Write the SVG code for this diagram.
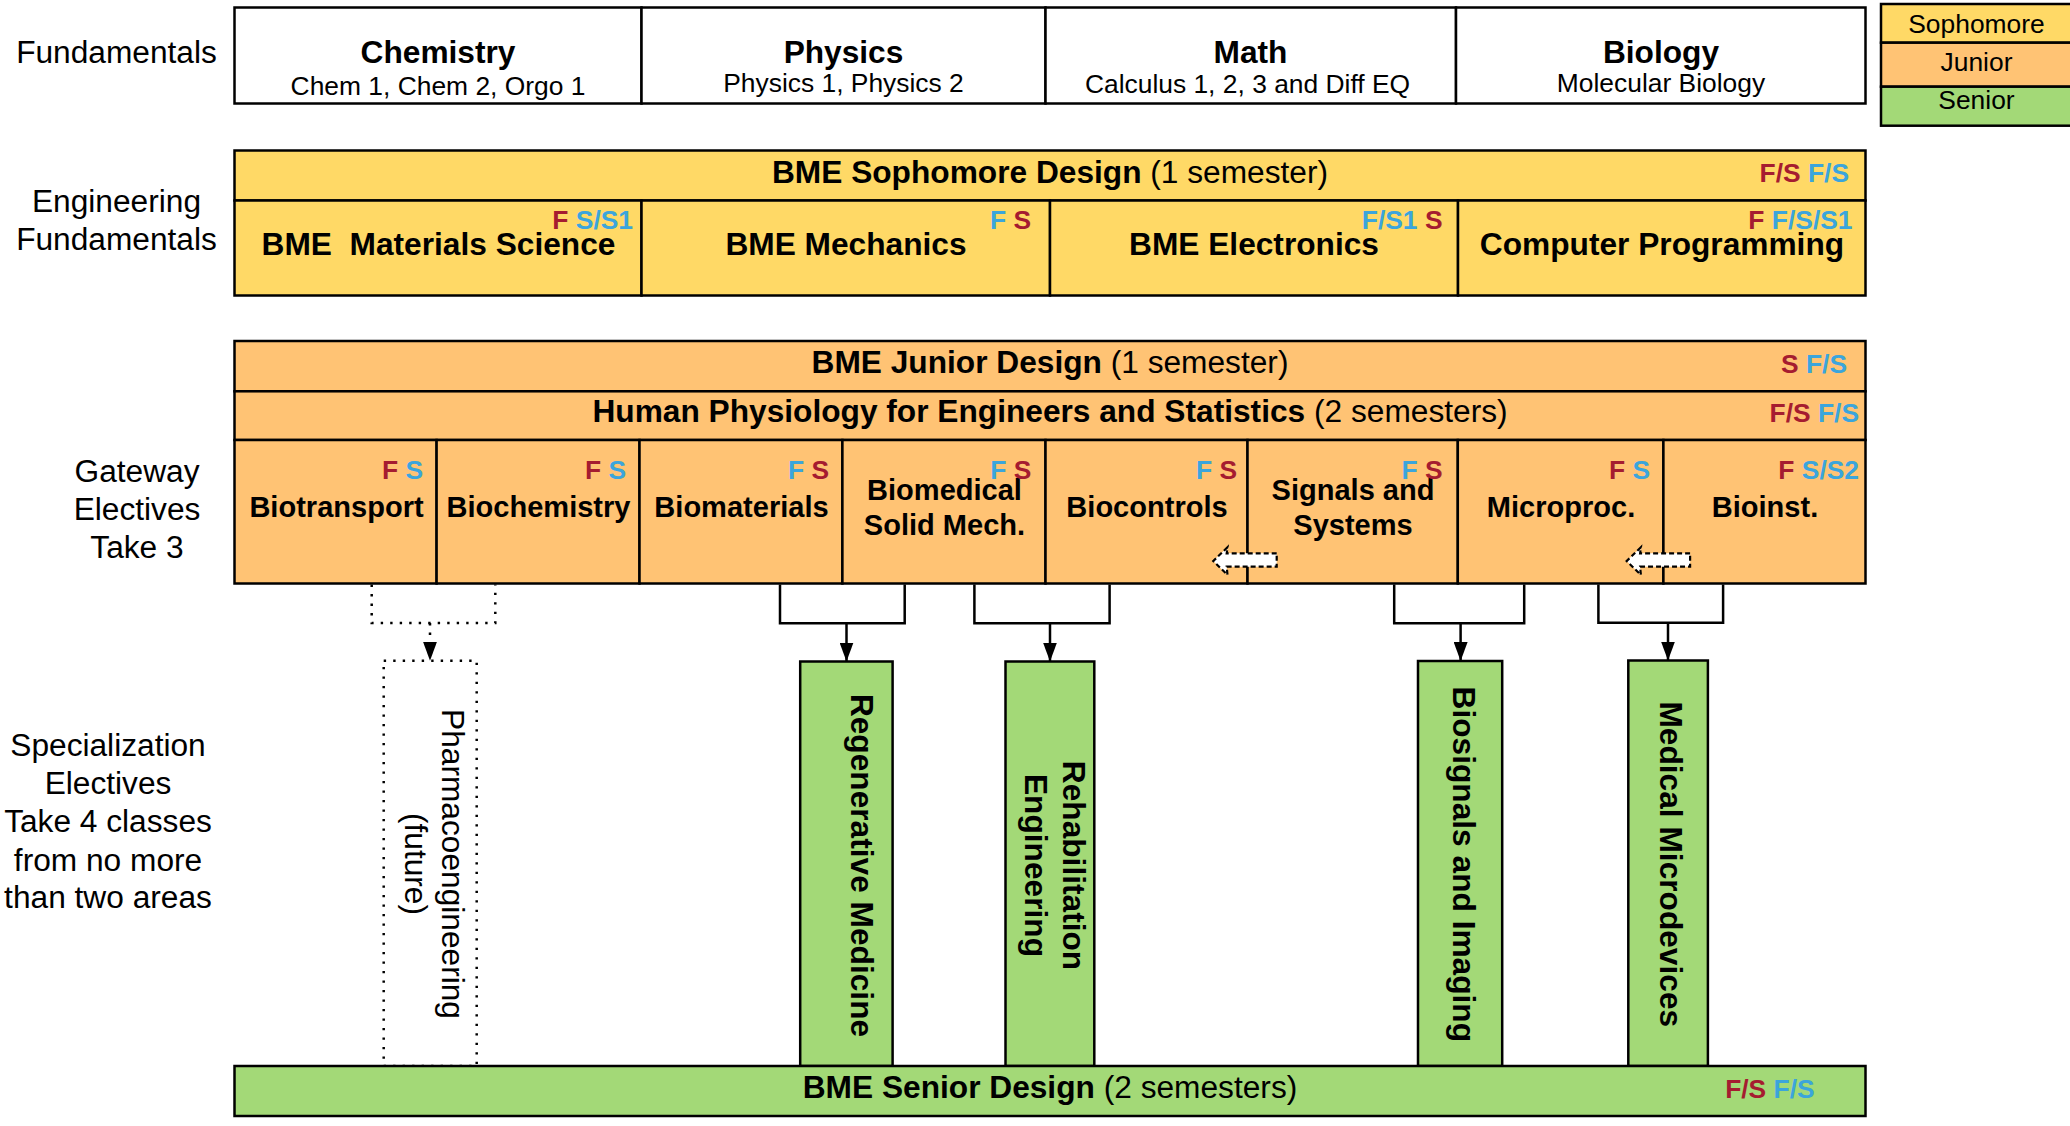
<svg xmlns="http://www.w3.org/2000/svg" width="2070" height="1126" viewBox="0 0 2070 1126">
  <defs>
    <style>
      .box { stroke: #000; stroke-width: 2.5; }
      .w { fill: #fff; }
      .y { fill: #FFD966; }
      .o { fill: #FFC374; }
      .g { fill: #A3D977; }
      text { font-family: "Liberation Sans", Arial, Helvetica, sans-serif; fill: #000; }
      .t24 { font-size: 31.68px; }
      .t22 { font-size: 29.04px; font-weight: bold; }
      .t20 { font-size: 26.4px; }
      .bd { font-weight: bold; }
      .mk { font-size: 26.4px; font-weight: bold; }
      .r { fill: #A51C30; }
      .bl { fill: #3BA5DC; }
      .mid { text-anchor: middle; }
      .end { text-anchor: end; }
      .conn { fill: none; stroke: #000; stroke-width: 2.5; }
      .dot { fill: none; stroke: #000; stroke-width: 2.5; stroke-dasharray: 2.4 7.1; }
      .flex { fill: #fff; stroke: #000; stroke-width: 2.2; stroke-dasharray: 5 3; }
    </style>
    <marker id="arrowEnd" markerUnits="userSpaceOnUse" viewBox="0 0 19 14" refX="19" refY="7" markerWidth="19" markerHeight="14" orient="auto">
      <path d="M0,0 L19,7 L0,14 z" fill="#000"/>
    </marker>
  </defs>

  <rect width="2070" height="1126" fill="#fff"/>

  <!-- row labels -->
  <g id="row-labels" class="t24">
    <text class="mid" x="116.5" y="62.7">Fundamentals</text>
    <text class="mid" x="116.5" y="211.5">Engineering</text>
    <text class="mid" x="116.5" y="249.8">Fundamentals</text>
    <text class="mid" x="137" y="481.5">Gateway</text>
    <text class="mid" x="137" y="519.8">Electives</text>
    <text class="mid" x="137" y="557.5">Take 3</text>
    <text class="mid" x="108" y="755.9">Specialization</text>
    <text class="mid" x="108" y="794.2">Electives</text>
    <text class="mid" x="108" y="832.1">Take 4 classes</text>
    <text class="mid" x="108" y="870.5">from no more</text>
    <text class="mid" x="108" y="908.4">than two areas</text>
  </g>

  <!-- legend -->
  <g id="legend">
    <rect class="box y" x="1881" y="4" width="194" height="38.7"/>
    <rect class="box o" x="1881" y="42.7" width="194" height="44"/>
    <rect class="box g" x="1881" y="86.7" width="194" height="39"/>
    <text class="t20 mid" x="1976.5" y="32.7">Sophomore</text>
    <text class="t20 mid" x="1976.5" y="71">Junior</text>
    <text class="t20 mid" x="1976.5" y="109">Senior</text>
  </g>

  <!-- fundamentals -->
  <g id="chemistry">
    <rect class="box w" x="234.5" y="7.5" width="407" height="96"/>
    <text class="t24 bd mid" x="438" y="62.5">Chemistry</text>
    <text class="t20 mid" x="438" y="95">Chem 1, Chem 2, Orgo 1</text>
  </g>
  <g id="physics">
    <rect class="box w" x="641.5" y="7.5" width="404" height="96"/>
    <text class="t24 bd mid" x="843.5" y="62.5">Physics</text>
    <text class="t20 mid" x="843.5" y="92">Physics 1, Physics 2</text>
  </g>
  <g id="math">
    <rect class="box w" x="1045.5" y="7.5" width="410.5" height="96"/>
    <text class="t24 bd mid" x="1250.5" y="62.5">Math</text>
    <text class="t20 mid" x="1247.5" y="92.5">Calculus 1, 2, 3 and Diff EQ</text>
  </g>
  <g id="biology">
    <rect class="box w" x="1456" y="7.5" width="409.5" height="96"/>
    <text class="t24 bd mid" x="1661" y="62.5">Biology</text>
    <text class="t20 mid" x="1661" y="92">Molecular Biology</text>
  </g>

  <!-- engineering fundamentals -->
  <g id="sophomore-design">
    <rect class="box y" x="234.5" y="150.5" width="1631" height="50"/>
    <text class="t24 mid" x="1050" y="183.2"><tspan class="bd">BME Sophomore Design</tspan> (1 semester)</text>
    <text class="mk end" x="1849" y="181.5"><tspan class="r">F/S</tspan> <tspan class="bl">F/S</tspan></text>
  </g>
  <g id="materials-science">
    <rect class="box y" x="234.5" y="200.5" width="407" height="95"/>
    <text class="t24 bd mid" x="438.5" y="254.5" xml:space="preserve">BME  Materials Science</text>
    <text class="mk end" x="633" y="229.3"><tspan class="r">F</tspan> <tspan class="bl">S/S1</tspan></text>
  </g>
  <g id="mechanics">
    <rect class="box y" x="641.5" y="200.5" width="408.5" height="95"/>
    <text class="t24 bd mid" x="846" y="254.5">BME Mechanics</text>
    <text class="mk end" x="1031" y="229.3"><tspan class="bl">F</tspan> <tspan class="r">S</tspan></text>
  </g>
  <g id="electronics">
    <rect class="box y" x="1050" y="200.5" width="408" height="95"/>
    <text class="t24 bd mid" x="1254" y="254.5">BME Electronics</text>
    <text class="mk end" x="1442.5" y="229.3"><tspan class="bl">F/S1</tspan> <tspan class="r">S</tspan></text>
  </g>
  <g id="programming">
    <rect class="box y" x="1458" y="200.5" width="407.5" height="95"/>
    <text class="t24 bd mid" x="1662" y="254.5">Computer Programming</text>
    <text class="mk end" x="1852.5" y="229.3"><tspan class="r">F</tspan> <tspan class="bl">F/S/S1</tspan></text>
  </g>

  <!-- junior year -->
  <g id="junior-design">
    <rect class="box o" x="234.5" y="341" width="1631" height="50.3"/>
    <text class="t24 mid" x="1050" y="373.2"><tspan class="bd">BME Junior Design</tspan> (1 semester)</text>
    <text class="mk end" x="1847" y="373"><tspan class="r">S</tspan> <tspan class="bl">F/S</tspan></text>
  </g>
  <g id="physiology-statistics">
    <rect class="box o" x="234.5" y="391.3" width="1631" height="48.7"/>
    <text class="t24 mid" x="1050" y="421.8"><tspan class="bd">Human Physiology for Engineers and Statistics</tspan> (2 semesters)</text>
    <text class="mk end" x="1859" y="421.5"><tspan class="r">F/S</tspan> <tspan class="bl">F/S</tspan></text>
  </g>

  <!-- gateway electives -->
  <g id="biotransport">
    <rect class="box o" x="234.5" y="440" width="202.1" height="143.5"/>
    <text class="t22 mid" x="336.5" y="516.7">Biotransport</text>
    <text class="mk end" x="423.2" y="478.5"><tspan class="r">F</tspan> <tspan class="bl">S</tspan></text>
  </g>
  <g id="biochemistry">
    <rect class="box o" x="436.6" y="440" width="202.9" height="143.5"/>
    <text class="t22 mid" x="538.5" y="516.7">Biochemistry</text>
    <text class="mk end" x="626.1" y="478.5"><tspan class="r">F</tspan> <tspan class="bl">S</tspan></text>
  </g>
  <g id="biomaterials">
    <rect class="box o" x="639.5" y="440" width="202.9" height="143.5"/>
    <text class="t22 mid" x="741.5" y="516.7">Biomaterials</text>
    <text class="mk end" x="829" y="478.5"><tspan class="bl">F</tspan> <tspan class="r">S</tspan></text>
  </g>
  <g id="solid-mechanics">
    <rect class="box o" x="842.4" y="440" width="203.1" height="143.5"/>
    <text class="t22 mid" x="944.5" y="500">Biomedical</text>
    <text class="t22 mid" x="944.5" y="535">Solid Mech.</text>
    <text class="mk end" x="1031.3" y="478.5"><tspan class="bl">F</tspan> <tspan class="r">S</tspan></text>
  </g>
  <g id="biocontrols">
    <rect class="box o" x="1045.5" y="440" width="202" height="143.5"/>
    <text class="t22 mid" x="1147" y="516.7">Biocontrols</text>
    <text class="mk end" x="1237" y="478.5"><tspan class="bl">F</tspan> <tspan class="r">S</tspan></text>
  </g>
  <g id="signals-systems">
    <rect class="box o" x="1247.5" y="440" width="210.3" height="143.5"/>
    <text class="t22 mid" x="1353" y="500">Signals and</text>
    <text class="t22 mid" x="1353" y="535">Systems</text>
    <text class="mk end" x="1442.5" y="478.5"><tspan class="bl">F</tspan> <tspan class="r">S</tspan></text>
  </g>
  <g id="microprocessors">
    <rect class="box o" x="1457.8" y="440" width="205.6" height="143.5"/>
    <text class="t22 mid" x="1561" y="516.7">Microproc.</text>
    <text class="mk end" x="1650" y="478.5"><tspan class="r">F</tspan> <tspan class="bl">S</tspan></text>
  </g>
  <g id="bioinstrumentation">
    <rect class="box o" x="1663.4" y="440" width="202.1" height="143.5"/>
    <text class="t22 mid" x="1765" y="516.7">Bioinst.</text>
    <text class="mk end" x="1859" y="478.5"><tspan class="r">F</tspan> <tspan class="bl">S/S2</tspan></text>
  </g>

  <!-- specialization areas -->
  <g id="pharmacoengineering">
    <rect class="dot" x="383.7" y="660.7" width="93" height="405.3"/>
    <g transform="translate(442,864) rotate(90)">
      <text class="t24 mid" x="0" y="0">Pharmacoengineering</text>
    </g>
    <g transform="translate(405,864) rotate(90)">
      <text class="t24 mid" x="0" y="0">(future)</text>
    </g>
  </g>
  <g id="regenerative-medicine">
    <rect class="box g" x="800.2" y="661.5" width="92.4" height="404.5"/>
    <g transform="translate(850.5,865.5) rotate(90)">
      <text class="t24 bd mid" x="0" y="0">Regenerative Medicine</text>
    </g>
  </g>
  <g id="rehabilitation-engineering">
    <rect class="box g" x="1005.5" y="661.5" width="88.8" height="404.5"/>
    <g transform="translate(1062.7,865.5) rotate(90)">
      <text class="t24 bd mid" x="0" y="0">Rehabilitation</text>
    </g>
    <g transform="translate(1025,865.5) rotate(90)">
      <text class="t24 bd mid" x="0" y="0">Engineering</text>
    </g>
  </g>
  <g id="biosignals-imaging">
    <rect class="box g" x="1418" y="661" width="84.2" height="405"/>
    <g transform="translate(1453.2,864.3) rotate(90)">
      <text class="t24 bd mid" x="0" y="0">Biosignals and Imaging</text>
    </g>
  </g>
  <g id="medical-microdevices">
    <rect class="box g" x="1628.3" y="660.5" width="79.6" height="405.5"/>
    <g transform="translate(1660,864.3) rotate(90)">
      <text class="t24 bd mid" x="0" y="0">Medical Microdevices</text>
    </g>
  </g>

  <!-- senior year -->
  <g id="senior-design">
    <rect class="box g" x="234.5" y="1066" width="1631" height="50"/>
    <text class="t24 mid" x="1050" y="1098"><tspan class="bd">BME Senior Design</tspan> (2 semesters)</text>
    <text class="mk end" x="1814.6" y="1098"><tspan class="r">F/S</tspan> <tspan class="bl">F/S</tspan></text>
  </g>

  <!-- connectors -->
  <g id="connectors">
    <!-- gateway pairs feeding each specialization -->
    <path class="dot" d="M371.7,584.5 V623 H495.3 V584.5"/>
    <path class="dot" d="M430,623 V660.7" marker-end="url(#arrowEnd)"/>

    <path class="conn" d="M780,584.5 V623.3 H904.7 V584.5"/>
    <path class="conn" d="M846.5,623.3 V661.5" marker-end="url(#arrowEnd)"/>

    <path class="conn" d="M974.4,584.5 V623.3 H1109.6 V584.5"/>
    <path class="conn" d="M1050,623.3 V661.5" marker-end="url(#arrowEnd)"/>

    <path class="conn" d="M1394.2,584.5 V623.3 H1524.2 V584.5"/>
    <path class="conn" d="M1460.6,623.3 V661" marker-end="url(#arrowEnd)"/>

    <path class="conn" d="M1598.4,584.5 V622.8 H1723.1 V584.5"/>
    <path class="conn" d="M1668,622.8 V660.5" marker-end="url(#arrowEnd)"/>

    <!-- prerequisite hints between gateway courses -->
    <polygon class="flex" points="1276.7,553.3 1226.7,553.3 1227.5,547.3 1213.3,561 1227.5,575 1226.7,566.7 1276.7,566.7"/>
    <polygon class="flex" points="1690.1,553.3 1640.1,553.3 1640.9,547.3 1626.7,561 1640.9,575 1640.1,566.7 1690.1,566.7"/>
  </g>
</svg>
